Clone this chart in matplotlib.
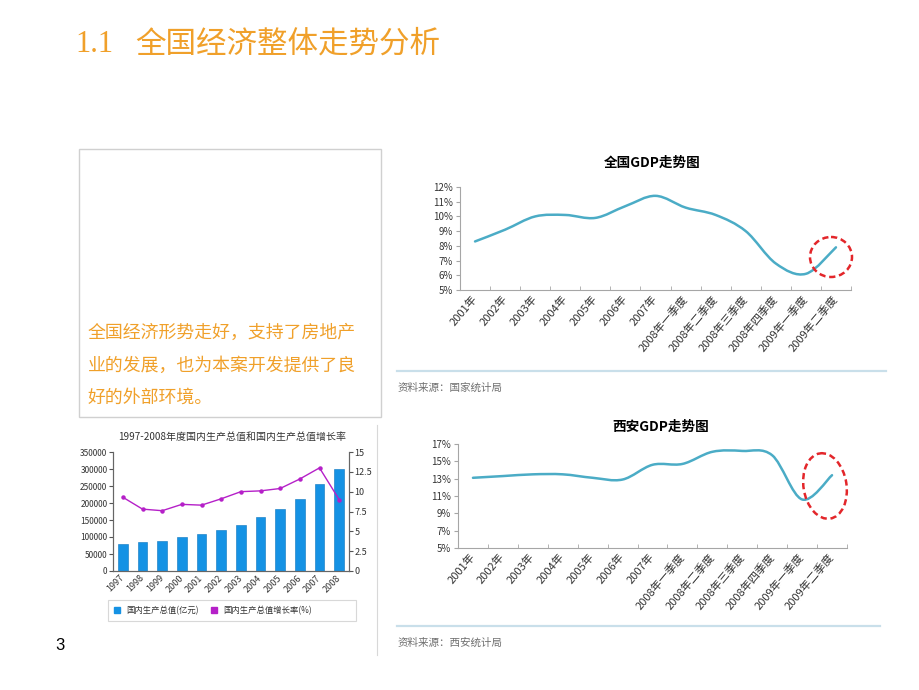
import numpy as np
import matplotlib
matplotlib.use('Agg')
import matplotlib.pyplot as plt
from matplotlib.path import Path
from matplotlib.patches import PathPatch, Ellipse, Rectangle

plt.rcParams['font.family'] = ['Noto Sans CJK SC', 'DejaVu Sans']

# 数据
quarters = ['2001年', '2002年', '2003年', '2004年', '2005年', '2006年', '2007年',
            '2008年一季度', '2008年二季度', '2008年三季度', '2008年四季度',
            '2009年一季度', '2009年二季度']
gdp_cn = [8.3, 9.1, 10.0, 10.1, 9.9, 10.7, 11.4, 10.6, 10.1, 9.0, 6.8, 6.1, 7.9]
gdp_xa = [13.1, 13.3, 13.5, 13.5, 13.1, 12.9, 14.6, 14.7, 16.1, 16.2, 15.7, 10.6, 13.4]

years = ['1997', '1998', '1999', '2000', '2001', '2002', '2003', '2004',
         '2005', '2006', '2007', '2008']
gdp_total = [78973, 84402, 89677, 99215, 109655, 120333, 135823, 159878,
             183217, 211924, 257306, 300670]
gdp_growth = [9.3, 7.8, 7.6, 8.4, 8.3, 9.1, 10.0, 10.1, 10.4, 11.6, 13.0, 9.0]

ORANGE = '#F0A02A'
LINE_BLUE = '#4BACC6'
W, H = 920, 690

fig = plt.figure(figsize=(9.2, 6.9), dpi=100)


def add_ax(x0, y0, x1, y1, **kw):
    # pixel box (top-left origin) -> figure fraction
    return fig.add_axes([x0 / W, 1 - y1 / H, (x1 - x0) / W, (y1 - y0) / H], **kw)


def smooth_path(xs, ys):
    # Excel-style smoothed line as cubic bezier segments
    pts = np.column_stack([xs, ys]).astype(float)
    n = len(pts)
    verts = [pts[0]]
    codes = [Path.MOVETO]
    for i in range(n - 1):
        p0 = pts[i - 1] if i > 0 else pts[i]
        p1, p2 = pts[i], pts[i + 1]
        p3 = pts[i + 2] if i + 2 < n else pts[i + 1]
        verts += [p1 + (p2 - p0) / 6, p2 - (p3 - p1) / 6, p2]
        codes += [Path.CURVE4] * 3
    return Path(verts, codes)


def gdp_chart(box, values, ylo, yhi, step):
    ax = add_ax(*box)
    n = len(values)
    idx = np.arange(n)
    ax.add_patch(PathPatch(smooth_path(idx, values), fill=False, ec=LINE_BLUE,
                           lw=1.8, capstyle='round'))
    ax.set_xlim(-0.5, n - 0.5)
    ax.set_ylim(ylo, yhi)
    yt = np.arange(ylo, yhi + 0.01, step)
    ax.set_yticks(yt)
    ax.set_yticklabels([f'{v:.0f}%' for v in yt], fontsize=7, color='#333333')
    ax.set_xticks(idx)
    ax.set_xticklabels(quarters, rotation=50, ha='right', va='center',
                       rotation_mode='anchor', fontsize=8, color='#333333')
    ax.set_xticks(np.arange(-0.5, n), minor=True)
    ax.tick_params(axis='x', which='major', length=0, pad=5)
    ax.tick_params(axis='x', which='minor', direction='in', length=3, color='#A6A6A6')
    ax.tick_params(axis='y', length=3, color='#A6A6A6', pad=2)
    for s in ['top', 'right']:
        ax.spines[s].set_visible(False)
    for s in ['left', 'bottom']:
        ax.spines[s].set_color('#A6A6A6')
    ax.patch.set_alpha(0)
    return ax


gdp_chart((460, 187, 851, 290), gdp_cn, 5, 12, 1)
gdp_chart((458, 444, 847, 548), gdp_xa, 5, 17, 2)

# 1997-2008 柱线图
ax3 = add_ax(113, 452, 349, 571)
x = np.arange(len(years))
ax3.bar(x, gdp_total, width=0.5, color='#1592E4', edgecolor='#0B74BE', lw=0.4)
ax3.set_xlim(-0.5, len(years) - 0.5)
ax3.set_ylim(0, 350000)
ax3.set_yticks(np.arange(0, 350001, 50000))
ax3.set_yticklabels([str(v) for v in range(0, 350001, 50000)], fontsize=6, color='#333333')
ax3.set_xticks(x)
ax3.set_xticklabels(years, rotation=45, ha='right', va='center',
                    rotation_mode='anchor', fontsize=6.5, color='#333333')
ax3.tick_params(axis='x', length=0, pad=4)
ax3.tick_params(axis='y', length=3, color='#555555', pad=1)
ax3r = ax3.twinx()
ax3r.plot(x, gdp_growth, color='#B520C8', lw=1, marker='o', ms=2.2)
ax3r.set_ylim(0, 15)
rt = [0, 2.5, 5, 7.5, 10, 12.5, 15]
ax3r.set_yticks(rt)
ax3r.set_yticklabels([f'{v:g}' for v in rt], fontsize=6.5, color='#333333')
ax3r.tick_params(axis='y', length=3, color='#555555', pad=1)
for a in (ax3, ax3r):
    a.spines['top'].set_visible(False)
    for s in ['left', 'right', 'bottom']:
        a.spines[s].set_color('#666666')

# 页面元素（像素坐标叠加层）
ov = fig.add_axes([0, 0, 1, 1], zorder=10)
ov.set_xlim(0, W)
ov.set_ylim(H, 0)
ov.axis('off')
ov.patch.set_alpha(0)

ov.text(75, 44, '1.1', fontsize=22, color=ORANGE, va='center', family='Liberation Serif')
ov.text(135, 44, '全国经济整体走势分析', fontsize=22, color=ORANGE, va='center')

ov.add_patch(Rectangle((79, 149), 302, 268, fill=False, ec='#D0D0D0', lw=1))
for yy, line in zip([333, 366, 398], ['全国经济形势走好，支持了房地产',
                                      '业的发展，也为本案开发提供了良',
                                      '好的外部环境。']):
    ov.text(88, yy, line, fontsize=12.9, color=ORANGE, va='center')

ov.text(652, 163, '全国GDP走势图', fontsize=9.8, fontweight='bold', ha='center', va='center')
ov.text(661, 427, '西安GDP走势图', fontsize=9.8, fontweight='bold', ha='center', va='center')

ov.plot([397, 886], [371, 371], color='#C9DFEA', lw=1.6)
ov.plot([397, 880], [626, 626], color='#C9DFEA', lw=1.6)
ov.text(398, 388, '资料来源：国家统计局', fontsize=7.6, color='#707070', va='center')
ov.text(398, 643, '资料来源：西安统计局', fontsize=7.6, color='#707070', va='center')

ov.plot([377, 377], [425, 655], color='#D8D8D8', lw=0.8)

ov.add_patch(Ellipse((831, 257), 42, 40, fill=False, ec='#E3262A', lw=1.8,
                     linestyle=(0, (2.5, 1.5))))
ov.add_patch(Ellipse((825, 486), 43, 66, angle=-9, fill=False, ec='#E3262A', lw=1.8,
                     linestyle=(0, (2.5, 1.5))))

ov.text(232, 437, '1997-2008年度国内生产总值和国内生产总值增长率', fontsize=7.2,
        color='#333333', ha='center', va='center')
ov.add_patch(Rectangle((108, 600), 248, 21, fill=False, ec='#D8D8D8', lw=0.8))
ov.add_patch(Rectangle((114, 607), 6, 6, color='#1592E4'))
ov.text(126, 610.5, '国内生产总值(亿元)', fontsize=6, color='#333333', va='center')
ov.add_patch(Rectangle((211, 607), 6, 6, color='#B520C8'))
ov.text(223, 610.5, '国内生产总值增长率(%)', fontsize=6, color='#333333', va='center')

ov.text(60, 645, '3', fontsize=12, family='Liberation Sans', va='center', ha='center')

fig.savefig('out.png', dpi=100)
